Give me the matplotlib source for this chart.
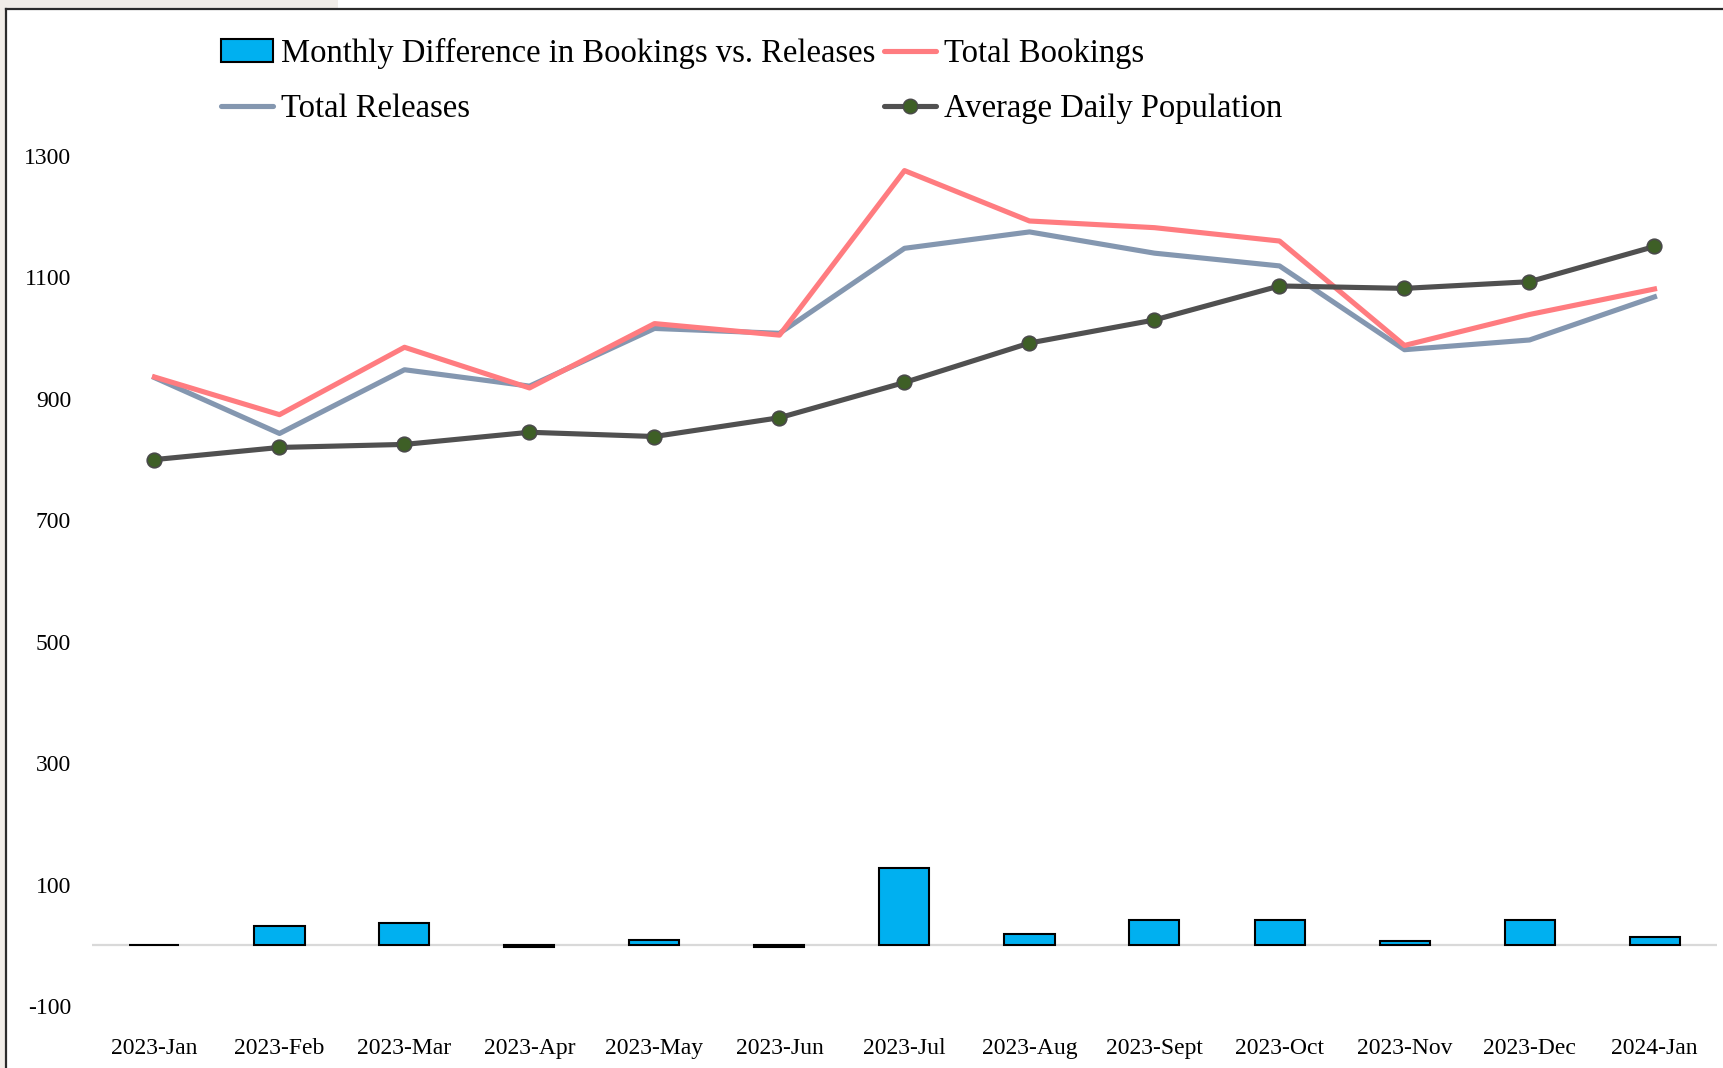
import numpy as np
import matplotlib
matplotlib.use('Agg')
import matplotlib.pyplot as plt
from matplotlib.patches import Patch, Rectangle
from matplotlib.lines import Line2D

plt.rcParams['font.family'] = ['Liberation Serif', 'DejaVu Serif']
plt.rcParams['axes.unicode_minus'] = False

months = ['2023-Jan', '2023-Feb', '2023-Mar', '2023-Apr', '2023-May', '2023-Jun',
          '2023-Jul', '2023-Aug', '2023-Sept', '2023-Oct', '2023-Nov', '2023-Dec', '2024-Jan']
bookings = [936, 874, 985, 918, 1024, 1005, 1276, 1193, 1182, 1160, 988, 1039, 1081]
releases = [935, 843, 948, 921, 1016, 1008, 1148, 1175, 1140, 1119, 981, 997, 1068]
difference = [1, 31, 37, -3, 8, -3, 128, 18, 42, 41, 7, 42, 13]
avg_daily_pop = [800, 820, 825, 845, 838, 869, 927, 992, 1030, 1086, 1082, 1093, 1151]
yticks = [-100, 100, 300, 500, 700, 900, 1100, 1300]

W, H = 1724, 1068
fig = plt.figure(figsize=(W / 100, H / 100), dpi=100, facecolor='white')

# page background / frame around the chart
fig.patches.append(Rectangle((0, 0), 6 / W, 1, transform=fig.transFigure,
                             facecolor='#f1ede8', edgecolor='none', zorder=0))
fig.patches.append(Rectangle((0, 1 - 8 / H), 338 / W, 8 / H, transform=fig.transFigure,
                             facecolor='#f1ede8', edgecolor='none', zorder=0))
fig.lines.append(Line2D([6.5 / W, 1], [1 - 8.5 / H, 1 - 8.5 / H], transform=fig.transFigure,
                        color='#2b2b2b', lw=1.6))
fig.lines.append(Line2D([6.5 / W, 6.5 / W], [0, 1 - 8.5 / H], transform=fig.transFigure,
                        color='#2b2b2b', lw=1.6))

ax = fig.add_axes([92 / W, 1 - 1006 / H, (1717 - 92) / W, (1006 - 34.6) / H])
x = np.arange(len(months))

ax.axhline(0, color='#d9d9d9', lw=1.6, zorder=1)
ax.bar(x, difference, width=0.4, color='#00b0f0', edgecolor='black', linewidth=1.5, zorder=2)
ax.plot(x, releases, color='#8497b0', lw=3.7, zorder=3)
ax.plot(x, bookings, color='#ff7c80', lw=3.7, zorder=3)
ax.plot(x, avg_daily_pop, color='#505050', lw=3.7, marker='o', markersize=10.5,
        markerfacecolor='#3e5f26', markeredgecolor='#4a4a4a', markeredgewidth=1.2, zorder=4)

ax.set_xlim(-0.5, len(months) - 0.5)
ax.set_ylim(-100, 1500)
ax.set_yticks(yticks)
ax.set_xticks(x)
ax.set_xticklabels(months)
ax.tick_params(axis='both', length=0, labelsize=17)
ax.tick_params(axis='y', pad=15)
ax.tick_params(axis='x', pad=23)
for s in ax.spines.values():
    s.set_visible(False)

handles = [
    Patch(facecolor='#00b0f0', edgecolor='black', linewidth=1.5),
    Line2D([0], [0], color='#8497b0', lw=3.7, solid_capstyle='round'),
    Line2D([0], [0], color='#ff7c80', lw=3.7, solid_capstyle='round'),
    Line2D([0], [0], color='#505050', lw=3.7, marker='o', markersize=10.5,
           markerfacecolor='#3e5f26', markeredgecolor='#4a4a4a', solid_capstyle='round'),
]
labels = ['Monthly Difference in Bookings vs. Releases', 'Total Releases',
          'Total Bookings', 'Average Daily Population']
fig.legend(handles, labels, loc='upper left', bbox_to_anchor=(221 / W, 1 - 38 / H),
           ncol=2, frameon=False, fontsize=23.5, borderpad=0, borderaxespad=0,
           handlelength=1.6, handletextpad=0.25, columnspacing=0.25, labelspacing=0.75)

fig.savefig('out.png', dpi=100)
